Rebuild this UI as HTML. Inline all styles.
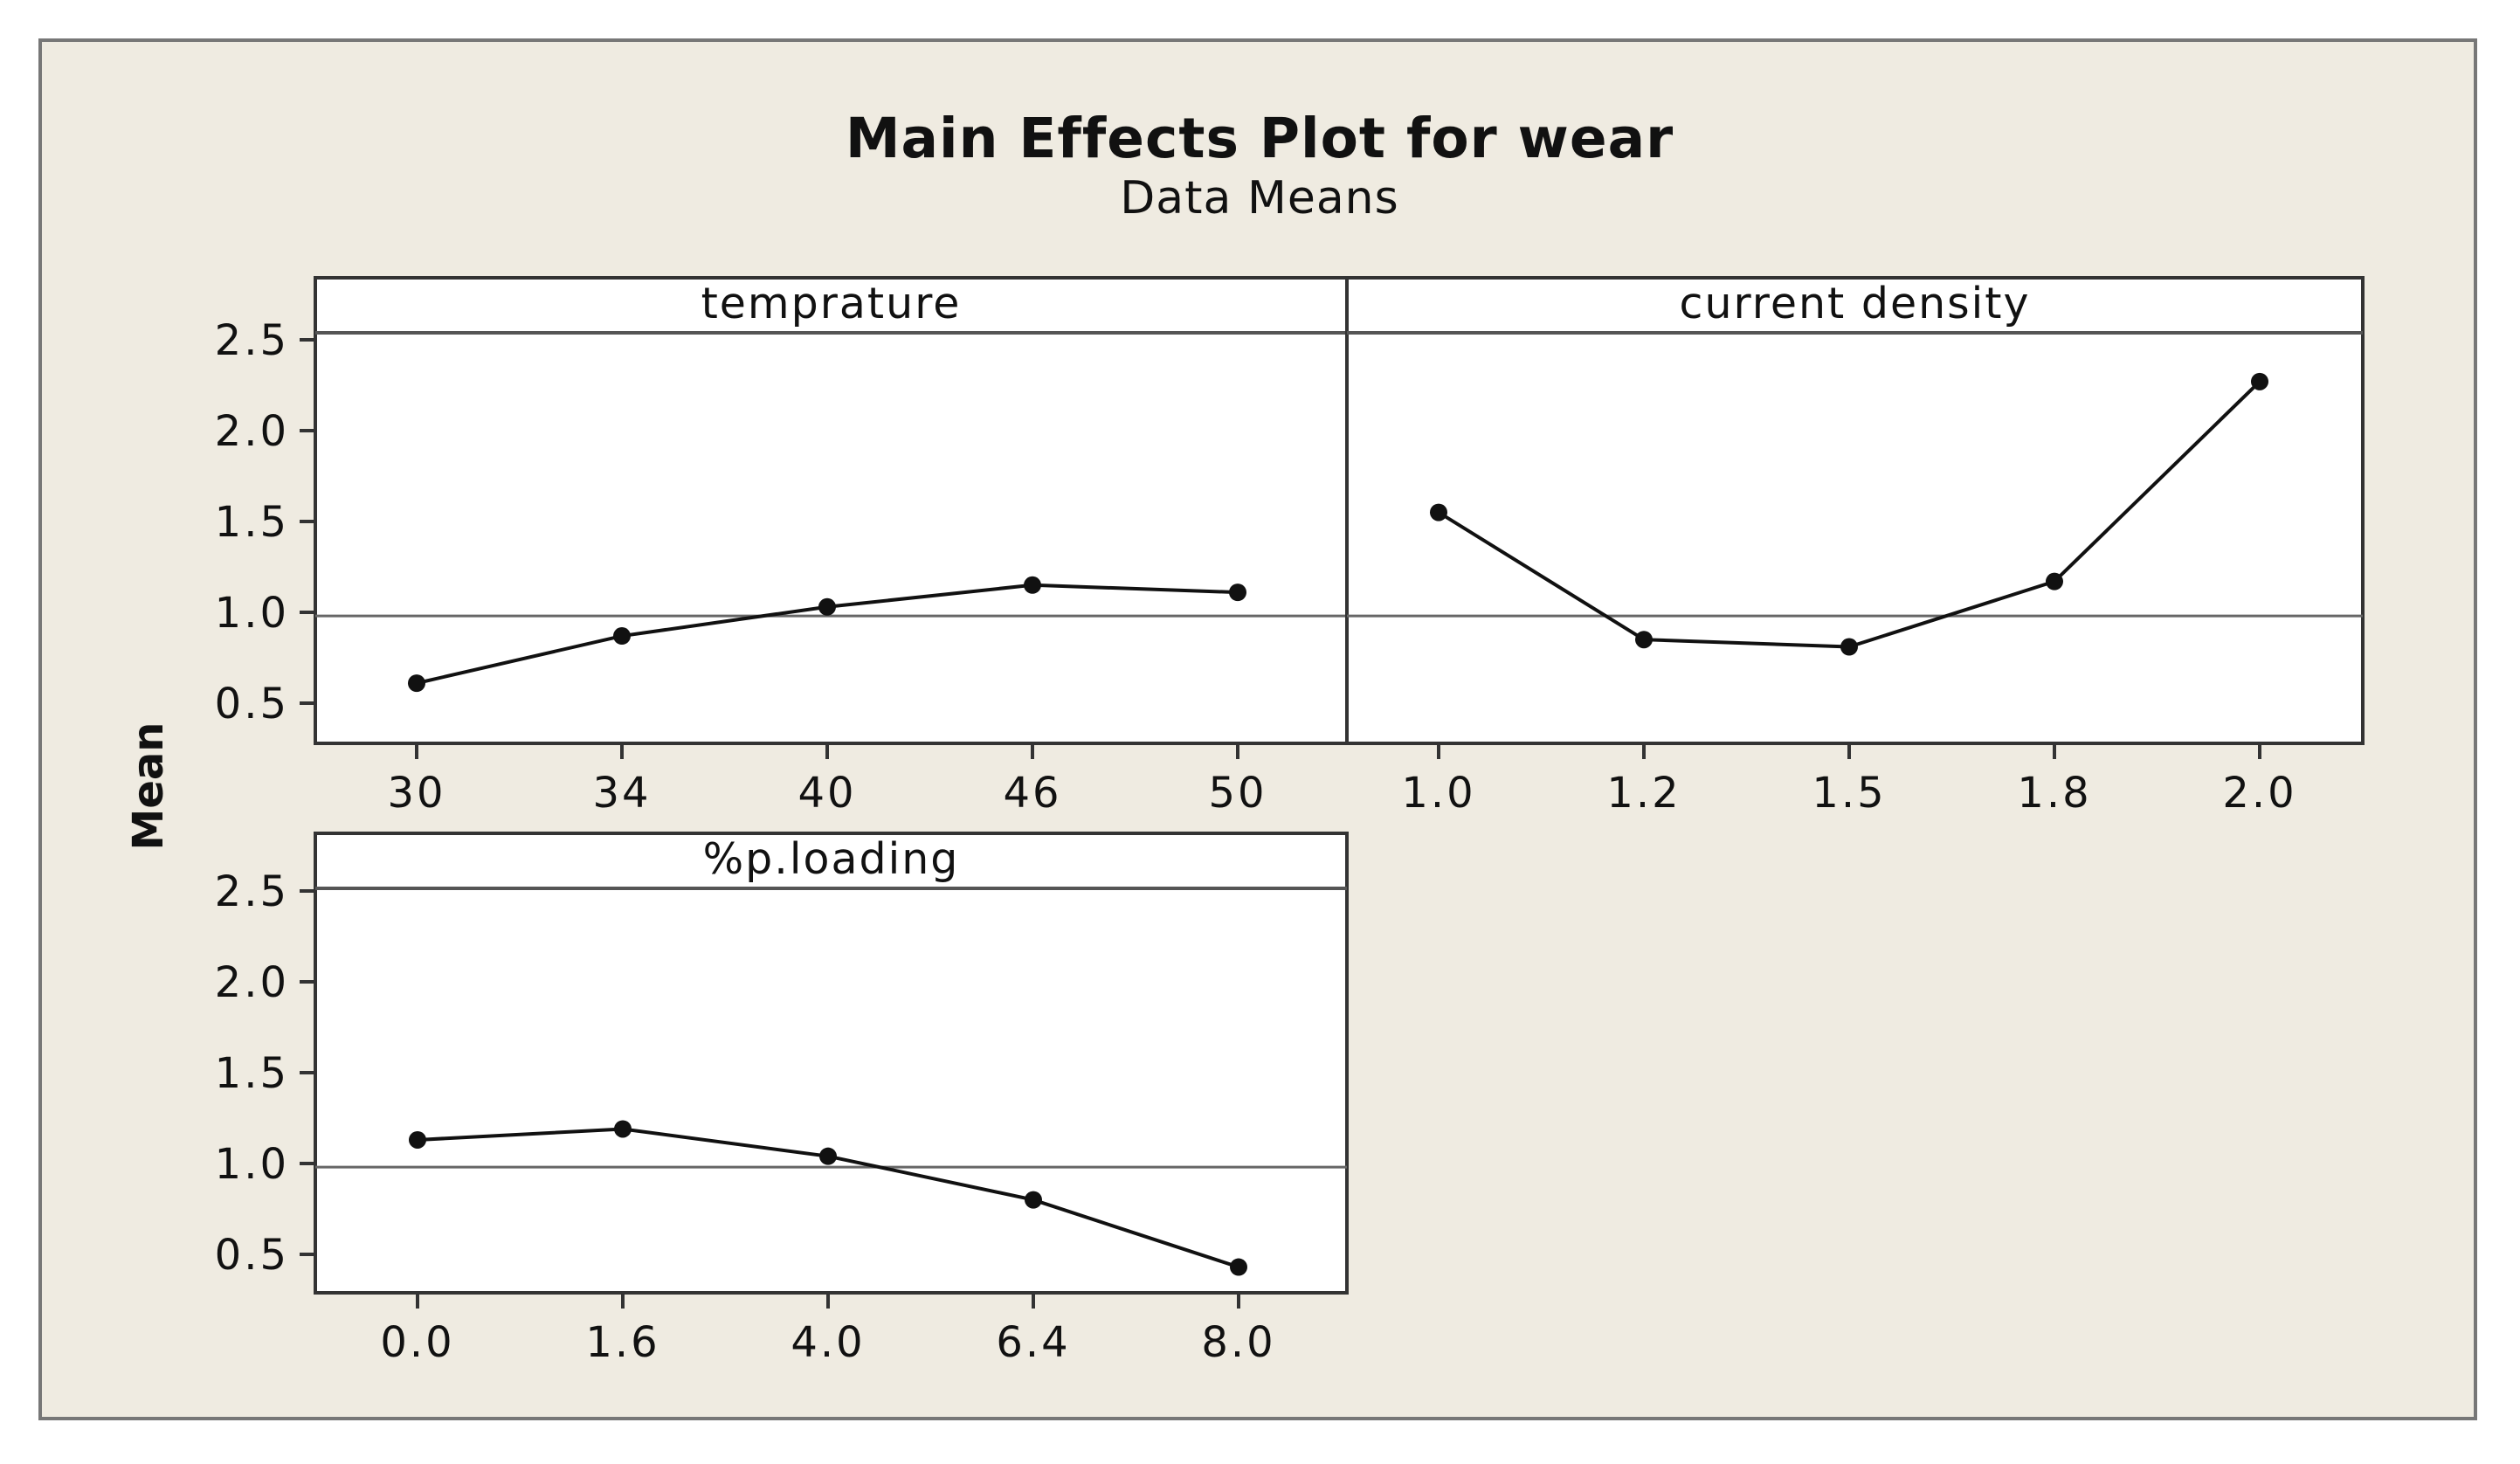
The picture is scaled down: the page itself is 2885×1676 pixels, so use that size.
<!DOCTYPE html>
<html><head><meta charset="utf-8"><style>
html,body{margin:0;padding:0;background:#fff;}
svg{display:block;font-family:"DejaVu Sans","Liberation Sans",sans-serif;}
</style></head><body>
<svg id="chart" width="2885" height="1676" viewBox="0 0 2885 1676" xmlns="http://www.w3.org/2000/svg">
<rect x="46" y="46" width="2788" height="1578" fill="#efebe1" stroke="#777" stroke-width="4"/>
<text x="1442" y="180" text-anchor="middle" font-size="63" font-weight="bold" fill="#111" letter-spacing="1">Main Effects Plot for wear</text>
<text x="1442" y="244" text-anchor="middle" font-size="52" fill="#111" letter-spacing="1">Data Means</text>
<text transform="translate(186,900) rotate(-90)" text-anchor="middle" font-size="48" font-weight="bold" fill="#111">Mean</text>
<g id="panels"></g>
</svg>
<script>
const tempLabels = ["30","34","40","46","50"];
const tempMeans = [0.61, 0.87, 1.03, 1.15, 1.11];
const cdLabels = ["1.0","1.2","1.5","1.8","2.0"];
const cdMeans = [1.55, 0.85, 0.81, 1.17, 2.27];
const loadLabels = ["0.0","1.6","4.0","6.4","8.0"];
const loadMeans = [1.13, 1.19, 1.04, 0.80, 0.43];
const yTicks = [0.5, 1.0, 1.5, 2.0, 2.5];
const grandMean = 0.98;

const NS = "http://www.w3.org/2000/svg";
const root = document.getElementById("panels");
function mk(tag, attrs, parent){
  const e = document.createElementNS(NS, tag);
  for (const k in attrs) e.setAttribute(k, attrs[k]);
  (parent||root).appendChild(e);
  return e;
}
function panel(name, title, labels, means, left, right, top, bottom, y1px, x0off, showY){
  const g = mk("g", {});
  
  
  const stripBot = top + 63;
  const y = v => y1px - (v - 1) * 208;
  const x0 = left + x0off, step = 235;
  const x = i => x0 + i * step;
  const bg = mk("rect", {x:left, y:top, width:right-left, height:bottom-top, fill:"#fff", stroke:"#333", "stroke-width":4}, g);
  
  
  mk("line", {x1:left, x2:right, y1:stripBot, y2:stripBot, stroke:"#555", "stroke-width":4}, g);
  const st = mk("text", {x:(left+right)/2, y:top+46, "text-anchor":"middle", "font-size":49, "letter-spacing":2, fill:"#111"}, g);
  st.textContent = title;
  
  
  const ref = mk("line", {x1:left, x2:right, y1:y(grandMean), y2:y(grandMean), stroke:"#666", "stroke-width":3}, g);
  
  
  if (showY) yTicks.forEach(v => {
    mk("line", {x1:left-18, x2:left, y1:y(v), y2:y(v), stroke:"#333", "stroke-width":4}, g);
    const t = mk("text", {x:left-30, y:y(v)+17, "text-anchor":"end", "font-size":48, "letter-spacing":3, fill:"#111"}, g);
    t.textContent = v.toFixed(1);
    
    
  });
  labels.forEach((l, i) => {
    mk("line", {x1:x(i), x2:x(i), y1:bottom, y2:bottom+18, stroke:"#333", "stroke-width":4}, g);
    const t = mk("text", {x:x(i), y:bottom+73, "text-anchor":"middle", "font-size":48, "letter-spacing":3, fill:"#111"}, g);
    t.textContent = l;
    
    
  });
  const pts = means.map((v, i) => x(i) + "," + y(v)).join(" ");
  const pl = mk("polyline", {points:pts, fill:"none", stroke:"#111", "stroke-width":4}, g);
  
  
  means.forEach((v, i) => {
    const c = mk("circle", {cx:x(i), cy:y(v), r:10, fill:"#111"}, g);
    
    
  });
}
panel("temprature", "temprature", tempLabels, tempMeans, 361, 1542, 318, 851, 701, 116, true);
panel("current-density", "current density", cdLabels, cdMeans, 1542, 2705, 318, 851, 701, 105, false);
panel("p-loading", "%p.loading", loadLabels, loadMeans, 361, 1542, 954, 1480, 1332, 117, true);
</script>
</body></html>
